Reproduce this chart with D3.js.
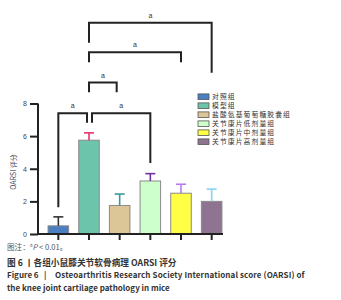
<!DOCTYPE html>
<html><head><meta charset="utf-8">
<script src="https://cdn.jsdelivr.net/npm/d3@7"></script>
<style>body{margin:0;background:#fff}svg{display:block}</style>
</head><body>
<svg id="c" width="341" height="300"></svg>
<script>
const categories = ["对照组","模型组","盐酸氨基葡萄糖胶囊组","关节康片低剂量组","关节康片中剂量组","关节康片高剂量组"];
const means = [0.5, 5.75, 1.75, 3.25, 2.5, 2.0];
const errs = [0.55, 0.45, 0.7, 0.45, 0.55, 0.75];
const barColors = ["#4a7fc1","#6cc4ab","#dcc596","#ccffcc","#ffff44","#8e7490"];
const errColors = ["#333333","#e8336d","#3a9a9a","#7030a0","#b57bf0","#86d3f2"];
const yTicks = [0,2,4,6,8];
const brackets = [
  {a:1, b:5, label:"a"},
  {a:1, b:4, label:"a"},
  {a:1, b:2, label:"a"},
  {a:0, b:1, label:"a"},
  {a:1, b:3, label:"a"}
];

const svg = d3.select("#c");
const x = d3.scaleBand().domain(d3.range(categories.length)).range([43,227]).paddingInner(0.33).paddingOuter(0.165);
const y = d3.scaleLinear().domain([0,8]).range([234,103.5]);
const cx = i => x(i) + x.bandwidth()/2;

svg.selectAll("rect.bar").data(means).enter().append("rect")
  .attr("x",(d,i)=>x(i)).attr("y",d=>y(d))
  .attr("width",x.bandwidth()).attr("height",d=>y(0)-y(d))
  .attr("fill",(d,i)=>barColors[i]).attr("stroke","#8a8a8a").attr("stroke-width",1);

means.forEach((m,i)=>{
  const g = svg.append("g").attr("stroke",errColors[i]).attr("stroke-width",1.6);
  g.append("line").attr("x1",cx(i)).attr("x2",cx(i)).attr("y1",y(m)).attr("y2",y(m+errs[i]));
  g.append("line").attr("x1",cx(i)-5).attr("x2",cx(i)+5).attr("y1",y(m+errs[i])).attr("y2",y(m+errs[i]));
});

const ya = svg.append("g").attr("transform","translate(38,0)")
  .call(d3.axisLeft(y).tickValues(yTicks).tickSize(8).tickPadding(3));
ya.select(".domain").attr("stroke","#222").attr("stroke-width",2).attr("d","M0,"+y(8)+"V"+(y(0)+1));
ya.selectAll(".tick line").attr("stroke","#222").attr("stroke-width",2);
ya.selectAll(".tick text").attr("font-family","Liberation Sans, Arial").attr("font-size",7).attr("fill","#444");

const xa = svg.append("g").attr("transform","translate(0,234)")
  .call(d3.axisBottom(x).tickSize(6).tickFormat(""));
xa.select(".domain").attr("stroke","#222").attr("stroke-width",2).attr("d","M37,0H223");
xa.selectAll(".tick line").attr("stroke","#222").attr("stroke-width",2);

svg.append("text").attr("transform","translate(16,172) rotate(-90)")
  .attr("text-anchor","middle").attr("font-family","Noto Sans CJK SC, sans-serif")
  .attr("font-size",7).attr("fill","#445").text("OARSI 评分");

const bk = svg.append("g").attr("stroke","#222").attr("stroke-width",2).attr("fill","none");
function bracket(x1,x2,yl,yL,yR,label){
  bk.append("path").attr("d",`M${x1},${yL}V${yl}H${x2}V${yR}`);
  svg.append("text").attr("x",(x1+x2)/2).attr("y",yl-5).attr("text-anchor","middle")
    .attr("font-family","Liberation Sans, Arial").attr("font-size",7).attr("fill","#333").text(label);
}
bracket(cx(1), cx(5), 22.7, 42.7, 72.7, brackets[0].label);
bracket(cx(1), cx(4), 52.3, 62.3, 62.3, brackets[1].label);
bracket(cx(1), cx(2)-3, 82.5, 92.3, 92.3, brackets[2].label);
bracket(cx(0), cx(1)-2, 113.3, 207.3, 122.7, brackets[3].label);
bracket(cx(1)+3, cx(3), 113.3, 122.7, 163, brackets[4].label);

const lg = svg.append("g");
categories.forEach((c,i)=>{
  const yy = 96.7 + i*9;
  lg.append("rect").attr("x",198).attr("y",yy-2.8).attr("width",11).attr("height",5.6)
    .attr("fill",barColors[i]).attr("stroke","#555").attr("stroke-width",0.8);
  lg.append("text").attr("x",212).attr("y",yy+2.5).attr("font-family","Noto Sans CJK SC, sans-serif")
    .attr("font-size",6.8).attr("letter-spacing",1.1).attr("fill","#333").text(c);
});

const cap = svg.append("g").attr("font-family","Noto Sans CJK SC, Noto Sans, sans-serif");
const t1 = cap.append("text").attr("x",7).attr("y",249.5).attr("font-size",7.6).attr("fill","#555");
t1.append("tspan").text("图注：");
t1.append("tspan").attr("font-size",5).attr("dy",-2.5).text("a");
t1.append("tspan").attr("font-style","italic").attr("dy",2.5).text("P");
t1.append("tspan").text(" < 0.01。");
cap.append("text").attr("x",7).attr("y",265.8).attr("font-size",8.7).attr("font-weight","bold").attr("fill","#333")
  .text("图 6 丨各组小鼠膝关节软骨病理 OARSI 评分");
const l1 = cap.append("text").attr("y",277.5).attr("font-size",8).attr("font-weight","bold").attr("fill","#333");
l1.append("tspan").attr("x",7).text("Figure 6");
l1.append("tspan").attr("x",44).text("|");
l1.append("tspan").attr("x",55).attr("letter-spacing",0.12).text("Osteoarthritis Research Society International score (OARSI) of");
cap.append("text").attr("x",7).attr("y",290.5).attr("font-size",8).attr("font-weight","bold").attr("fill","#333")
  .text("the knee joint cartilage pathology in mice");
</script>
</body></html>
